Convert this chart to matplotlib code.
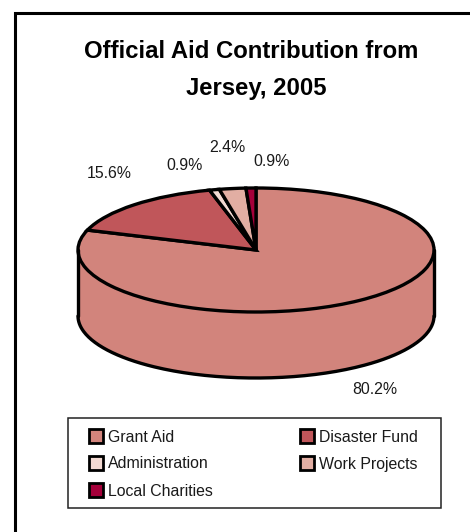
import matplotlib
matplotlib.use("Agg")
import matplotlib.pyplot as plt
from matplotlib.patches import Rectangle
import numpy as np

plt.rcParams['font.family'] = ['Liberation Sans', 'DejaVu Sans']

categories = ["Grant Aid", "Disaster Fund", "Administration", "Work Projects", "Local Charities"]
shares = [80.2, 15.6, 0.9, 2.4, 0.9]
colors = ["#D2847C", "#C0565A", "#F3D9D2", "#E2AEA3", "#A5003A"]
pct_labels = ["80.2%", "15.6%", "0.9%", "2.4%", "0.9%"]
title_lines = ["Official Aid Contribution from", "Jersey, 2005"]

W, H = 470, 532
fig = plt.figure(figsize=(W / 100, H / 100), dpi=100)
bg = fig.add_axes([0, 0, 1, 1])
bg.set_xlim(0, W)
bg.set_ylim(H, 0)
bg.axis("off")

# frame only shows on top and left, it runs off the picture
bg.plot([15, 15, W], [H, 13, 13], color="black", lw=2.2, solid_joinstyle="miter")

bg.text(251.5, 52, title_lines[0], ha="center", va="center", fontsize=17.2, fontweight="bold")
bg.text(256, 88, title_lines[1], ha="center", va="center", fontsize=17.2, fontweight="bold")

# pie top is an ellipse: axes is stretched, radius 1 fills it
cx, cy, rx, ry, depth = 256, 250, 178, 62, 66
ax = fig.add_axes([(cx - rx) / W, 1 - (cy + ry + depth) / H, 2 * rx / W, (2 * ry + depth) / H])
ax.patch.set_alpha(0)
d = depth / ry

# side wall of the cylinder, only the front is visible
t = np.linspace(np.pi, 2 * np.pi, 200)
ax.fill_between(np.cos(t), np.sin(t), np.sin(t) - d, color=colors[0], lw=0)
ax.plot(np.cos(t), np.sin(t) - d, color="black", lw=2.4, solid_capstyle="round")
ax.plot([-1, -1], [0, -d], color="black", lw=2.4, solid_capstyle="round")
ax.plot([1, 1], [0, -d], color="black", lw=2.4, solid_capstyle="round")

ax.pie(shares, colors=colors, startangle=90, counterclock=False, radius=1,
       wedgeprops=dict(edgecolor="black", linewidth=2.4))
ax.set_aspect("auto")
ax.set_xlim(-1, 1)
ax.set_ylim(-1 - d, 1)
ax.axis("off")
for art in ax.get_children():
    art.set_clip_on(False)

# percentage labels
label_pos = [(375, 389), (109, 174), (185, 165), (227, 148), (272, 161)]
for s, (lx, ly) in zip(pct_labels, label_pos):
    bg.text(lx, ly, s, ha="center", va="center", fontsize=11.4, color="#1a1a1a")

# legend
bg.add_patch(Rectangle((68, 418), 373, 90, fill=False, ec="#222222", lw=1.1))
legend_pos = [(88, 436), (299, 436), (88, 463), (299, 463), (88, 490)]
for name, col, (lx, ly) in zip(categories, colors, legend_pos):
    bg.add_patch(Rectangle((lx + 1, ly - 7), 13.5, 13.5, fc=col, ec="black", lw=2))
    bg.text(lx + 20, ly + 1, name, ha="left", va="center", fontsize=11.4, color="#1a1a1a")

fig.savefig("out.png", dpi=100)
